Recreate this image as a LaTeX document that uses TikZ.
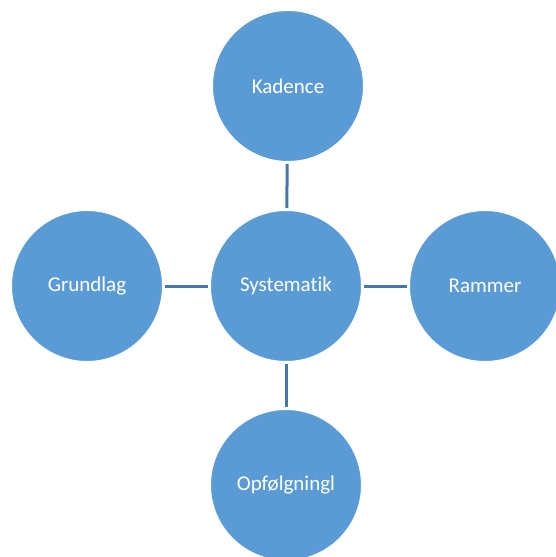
\documentclass[tikz,border=0pt]{standalone}
\usepackage{fontspec}
\setmainfont[Ligatures=NoCommon]{Carlito}
\definecolor{bubblefill}{RGB}{91,155,213}
\definecolor{linkline}{RGB}{70,118,172}

\begin{document}
\begin{tikzpicture}[x=1pt, y=-1pt,
    bubble/.style={circle, fill=bubblefill, draw=white, line width=1pt,
        minimum size=151pt, inner sep=0pt, text=white,
        font=\fontsize{21}{25}\selectfont},
    link/.style={draw=linkline, line width=3pt, shorten <=2pt, shorten >=2pt}]
    \useasboundingbox (0,0) rectangle (556,557);

    \node[bubble] (sys) at (286,286) {Systematik};
    \node[bubble] (kad) at (288,86) {Kadence};
    \node[bubble] (grund) at (87,286) {Grundlag};
    \node[bubble] (ram) at (485,286) {Rammer};
    \node[bubble] (opf) at (286,485) {Opfølgningl};

    \draw[link] (kad) -- (sys);
    \draw[link] (grund) -- (sys);
    \draw[link] (sys) -- (ram);
    \draw[link] (sys) -- (opf);
\end{tikzpicture}
\end{document}
